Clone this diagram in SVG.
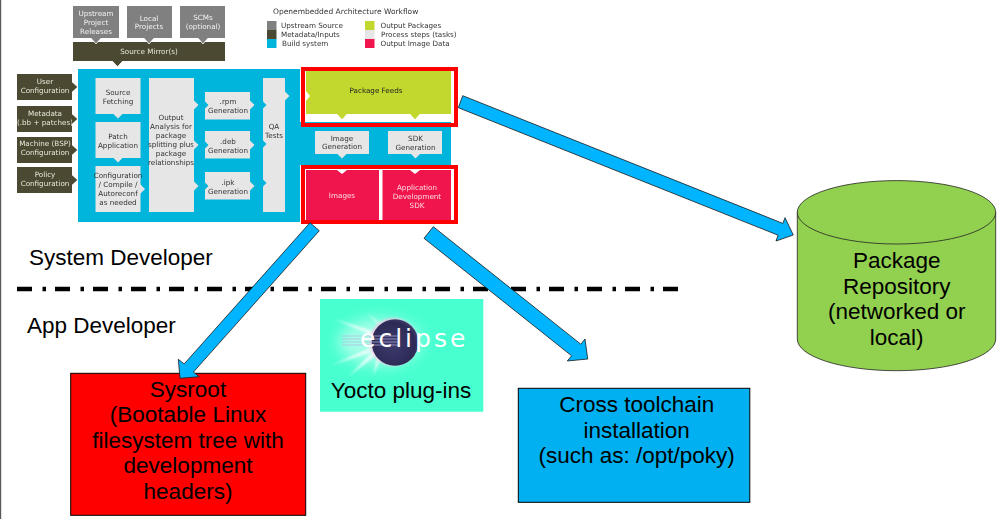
<svg xmlns="http://www.w3.org/2000/svg" xmlns:xlink="http://www.w3.org/1999/xlink" width="1004" height="519" viewBox="0 0 1004 519">
<style>
.s{font-family:"DejaVu Sans",Verdana,sans-serif;font-size:7.2px;text-anchor:middle;fill:#333}
.l{fill:#e8e8dc}.w{fill:#f2f2f2}.p{fill:#fbd9e2}
.t{text-anchor:start}
.a{font-family:"Liberation Sans",Arial,sans-serif;font-size:22.5px;text-anchor:middle;fill:#000}
.arrow{fill:#00b4ff;stroke:#1a1a1a;stroke-width:.8}
.gray{fill:#808080}.dark{fill:#4b4a30}.blue{fill:#00b5dc}.proc{fill:#e6e6e6}.green{fill:#c2d82e}.crim{fill:#f0174d}
.frame{fill:none;stroke:#f00;stroke-width:4}
.edge{stroke:#fff;stroke-width:.8;fill:none}
</style>
<defs>
<filter id="soft" x="-2%" y="-2%" width="104%" height="104%"><feGaussianBlur stdDeviation="0.4"/></filter>
<filter id="b1" x="-30%" y="-30%" width="160%" height="160%"><feGaussianBlur stdDeviation="1"/></filter>
<filter id="b6" x="-40%" y="-60%" width="180%" height="220%"><feGaussianBlur stdDeviation="7"/></filter>
<g id="cd"><polygon points="-5,0 0,5.5 5,0" fill="currentColor"/><polyline class="edge" points="-5.5,0 0,6 5.5,0"/></g>
<g id="cr"><polygon points="0,-5 5.5,0 0,5" fill="currentColor"/><polyline class="edge" points="0,-5.5 6,0 0,5.5"/></g>
<polygon id="pd" points="-5,-.5 0,4.5 5,-.5" fill="#e6e6e6"/>
<polygon id="pr" points="-.5,-5 4.500,0 -.5,5" fill="#e6e6e6"/>
<polygon id="nr" points="-.5,-4 3.500,0 -.5,4" fill="#00b5dc"/>
<radialGradient id="ball" cx="45%" cy="55%" r="60%"><stop offset="0" stop-color="#3d3a6e"/><stop offset=".8" stop-color="#2c2a55"/><stop offset="1" stop-color="#4a4478"/></radialGradient>
</defs>
<rect width="1004" height="519" fill="#fff"/>
<rect x="0" y="0" width="1.2" height="519" fill="#5a5a5a"/>

<g id="workflow" filter="url(#soft)">
<g id="legend">
<text class="s t" x="273" y="14" style="font-size:7.5px">Openembedded Architecture Workflow</text>
<rect class="gray" x="267" y="21" width="9.5" height="9"/><rect class="dark" x="267" y="30" width="9.5" height="9"/><rect class="blue" x="267" y="39" width="9.5" height="9"/>
<rect class="green" x="365" y="21" width="9.5" height="9"/><rect class="proc" x="365" y="30" width="9.5" height="9"/><rect class="crim" x="365" y="39" width="9.5" height="9"/>
<text class="s t" x="281" y="28.3">Upstream Source</text><text class="s t" x="281" y="37.2">Metadata/Inputs</text><text class="s t" x="282" y="46">Build system</text>
<text class="s t" x="380.5" y="28.3">Output Packages</text><text class="s t" x="381" y="37.2">Process steps (tasks)</text><text class="s t" x="380.5" y="46.3">Output Image Data</text>
</g>
<g id="build-system"><path class="blue" d="M78 69H300V122H451V165H300V222H78Z"/></g>
<g id="upstream"><rect class="gray" x="73" y="6" width="46" height="32"/><text class="s w" x="96" y="15.7">Upstream</text><text class="s w" x="96" y="25">Project</text><text class="s w" x="96" y="33.7">Releases</text></g>
<g id="local"><rect class="gray" x="127" y="6" width="45" height="32"/><text class="s w" x="149" y="20.7">Local</text><text class="s w" x="149" y="29.3">Projects</text></g>
<g id="scms"><rect class="gray" x="180" y="6" width="45" height="32"/><text class="s w" x="203" y="19.5">SCMs</text><text class="s w" x="203" y="28.5">(optional)</text></g>
<g id="mirror"><rect class="dark" x="73" y="42" width="152" height="19"/><text class="s l" x="149" y="53.5">Source Mirror(s)</text></g>
<g id="user"><rect class="dark" x="17" y="74" width="55" height="26"/><text class="s l" x="45" y="83.5">User</text><text class="s l" x="45" y="92.5">Configuration</text></g>
<g id="metadata"><rect class="dark" x="17" y="106" width="55" height="26"/><text class="s l" x="45" y="116">Metadata</text><text class="s l" x="45" y="125">(.bb + patches)</text></g>
<g id="machine"><rect class="dark" x="17" y="137" width="55" height="26"/><text class="s l" x="45" y="146">Machine (BSP)</text><text class="s l" x="45" y="155">Configuration</text></g>
<g id="policy"><rect class="dark" x="17" y="167" width="55" height="26"/><text class="s l" x="45" y="177">Policy</text><text class="s l" x="45" y="186">Configuration</text></g>
<g id="fetch"><rect class="proc" x="95.5" y="78" width="45" height="36"/><text class="s" x="118" y="95">Source</text><text class="s" x="118" y="104">Fetching</text></g>
<g id="patch"><rect class="proc" x="95.5" y="122" width="45" height="36"/><text class="s" x="118" y="138.5">Patch</text><text class="s" x="118" y="147.5">Application</text></g>
<g id="config"><rect class="proc" x="95.5" y="166" width="45" height="46"/><text class="s" x="118" y="177.7">Configuration</text><text class="s" x="118" y="187">/ Compile /</text><text class="s" x="118" y="195.7">Autoreconf</text><text class="s" x="118" y="204.7">as needed</text></g>
<g id="analysis"><rect class="proc" x="149" y="78" width="45" height="134"/><text class="s" x="171" y="120">Output</text><text class="s" x="171" y="129">Analysis for</text><text class="s" x="171" y="138">package</text><text class="s" x="171" y="147">splitting plus</text><text class="s" x="171" y="156">package</text><text class="s" x="171" y="165">relationships</text></g>
<g id="rpm"><rect class="proc" x="205" y="92" width="45" height="27.5"/><text class="s" x="228" y="104.3">.rpm</text><text class="s" x="228" y="113">Generation</text></g>
<g id="deb"><rect class="proc" x="205" y="131" width="45" height="27.5"/><text class="s" x="228" y="144.3">.deb</text><text class="s" x="228" y="153">Generation</text></g>
<g id="ipk"><rect class="proc" x="205" y="172" width="45" height="27.5"/><text class="s" x="228" y="185">.ipk</text><text class="s" x="228" y="193.7">Generation</text></g>
<g id="qa"><rect class="proc" x="263" y="78" width="22" height="134"/><text class="s" x="274" y="128.5">QA</text><text class="s" x="274" y="137.5">Tests</text></g>
<g id="feeds"><rect x="301" y="67" width="157" height="55" fill="#fff"/><rect class="green" x="306" y="71" width="145" height="43"/><text class="s" x="376" y="92.5" style="fill:#222">Package Feeds</text></g>
<g id="image-gen"><rect class="proc" x="315" y="131" width="54" height="23"/><text class="s" x="342" y="140.7">Image</text><text class="s" x="342" y="149.3">Generation</text></g>
<g id="sdk-gen"><rect class="proc" x="388" y="131" width="54" height="23"/><text class="s" x="415.5" y="141.3">SDK</text><text class="s" x="415.5" y="150">Generation</text></g>
<g id="images"><rect x="301" y="165" width="157" height="59" fill="#fff"/><rect class="crim" x="306" y="170" width="73" height="50.5"/><text class="s p" x="342" y="198.3">Images</text></g>
<g id="appsdk"><rect class="crim" x="382.5" y="170" width="68.5" height="50.5"/><text class="s p" x="417" y="190.3">Application</text><text class="s p" x="417" y="199">Development</text><text class="s p" x="417" y="208">SDK</text></g>
<g id="internal-connectors">
<g color="#808080"><use xlink:href="#cd" x="96" y="38"/><use xlink:href="#cd" x="149" y="38"/><use xlink:href="#cd" x="203" y="38"/></g>
<g color="#4b4a30"><use xlink:href="#cd" x="117.5" y="61"/><use xlink:href="#cr" x="72" y="87"/><use xlink:href="#cr" x="72" y="119"/><use xlink:href="#cr" x="72" y="150"/><use xlink:href="#cr" x="72" y="180"/></g>
<use xlink:href="#pd" x="118" y="114"/><use xlink:href="#pd" x="118" y="158"/><use xlink:href="#pr" x="140.500" y="189"/><use xlink:href="#pr" x="194" y="105"/><use xlink:href="#pr" x="194" y="145"/><use xlink:href="#pr" x="194" y="186"/><use xlink:href="#pr" x="250" y="105"/><use xlink:href="#pr" x="250" y="145"/><use xlink:href="#pr" x="250" y="186"/><use xlink:href="#pr" x="285" y="96"/><use xlink:href="#pd" x="342" y="154"/><use xlink:href="#pd" x="415.500" y="154"/>
<use xlink:href="#nr" x="205" y="105"/><use xlink:href="#nr" x="205" y="145"/><use xlink:href="#nr" x="205" y="186"/><use xlink:href="#nr" x="263" y="105"/><use xlink:href="#nr" x="263" y="144"/><use xlink:href="#nr" x="263" y="183"/>
<g fill="#fff"><polygon points="306,91 310,96 306,101"/><polygon points="337,170 342,174 347,170"/><polygon points="410,170 415,174 420,170"/></g>
<g color="#c2d82e"><use xlink:href="#cd" x="342" y="114"/><use xlink:href="#cd" x="415" y="114"/></g>
</g>
</g>
<g id="frames"><rect class="frame" x="303" y="69" width="153" height="56"/><rect class="frame" x="303" y="167" width="153" height="55"/></g>

<line id="divider" x1="17" y1="289" x2="679" y2="289" stroke="#000" stroke-width="4.5" stroke-dasharray="15 10.500 3.500 9"/>
<text id="system-dev" class="a" x="29" y="265" style="text-anchor:start">System Developer</text>
<text id="app-dev" class="a" x="27" y="332.500" style="text-anchor:start">App Developer</text>

<g id="eclipse">
<rect x="320" y="299" width="163.300" height="112.700" fill="#48ffd0"/>
<ellipse cx="380" cy="342" rx="42" ry="24" fill="#fff" opacity=".5" filter="url(#b6)"/>
<g fill="#fff" opacity=".7" filter="url(#b1)"><polygon points="334,319 376,337 376,332"/><polygon points="332,365 372,352 374,346"/><polygon points="349,376 378,354 374,350"/><polygon points="373,376 382,356 378,354"/><polygon points="366,312 384,330 382,325"/></g>
<circle cx="393.500" cy="342" r="24" fill="#f4c6e4" opacity=".8" filter="url(#b1)"/>
<circle cx="395" cy="342.500" r="23.300" fill="url(#ball)"/>
<g stroke="#b8b6de" stroke-width=".7"><line x1="342" y1="336" x2="398" y2="336"/><line x1="342" y1="339" x2="398" y2="339"/><line x1="342" y1="342" x2="398" y2="342"/><line x1="342" y1="345" x2="398" y2="345"/></g>
<text x="360" y="347" style="font-family:'DejaVu Sans',sans-serif;font-size:25px;letter-spacing:3px;fill:#fff">eclipse</text>
<text class="a" x="401" y="398">Yocto plug-ins</text>
</g>

<g id="sysroot"><rect x="70.700" y="373.300" width="235" height="142" fill="#f00" stroke="#000" stroke-width="1"/>
<text class="a" x="188" y="396.800">Sysroot</text><text class="a" x="188" y="422.300">(Bootable Linux</text><text class="a" x="188" y="447.800">filesystem tree with</text><text class="a" x="188" y="473.300">development</text><text class="a" x="188" y="498.800">headers)</text></g>
<g id="cross"><rect x="518.300" y="388.300" width="231.500" height="114" fill="#00b0f0" stroke="#000" stroke-width="1"/>
<text class="a" x="636.700" y="412.300">Cross toolchain</text><text class="a" x="636.700" y="438.300">installation</text><text class="a" x="636.700" y="463.300">(such as: /opt/poky)</text></g>
<g id="repository">
<path d="M797.300 212.300V339A99.200 31.700 0 0 0 995.700 339V212.300Z" fill="#92d050" stroke="#222" stroke-width=".8"/>
<ellipse cx="896.500" cy="212.300" rx="99.200" ry="31.700" fill="#92d050" stroke="#222" stroke-width=".8"/>
<text class="a" x="896.700" y="267.800">Package</text><text class="a" x="896.700" y="293.800">Repository</text><text class="a" x="896.700" y="319.300">(networked or</text><text class="a" x="896.700" y="344.800">local)</text>
</g>
<g id="connectors">
<polygon class="arrow" points="462.700,95.700 782.900,223.400 785,217.700 793.300,235 776,241 778.100,235.200 458.300,107.700"/>
<polygon class="arrow" points="310,222.700 319.300,230.700 193.400,372.100 199.300,376.700 180,378.300 178.300,359.300 184.200,363.900"/>
<polygon class="arrow" points="433.300,226.700 580.800,344.200 585,339 587.700,359 567.300,361 571.600,355.800 424,238.300"/>
</g>
</svg>
